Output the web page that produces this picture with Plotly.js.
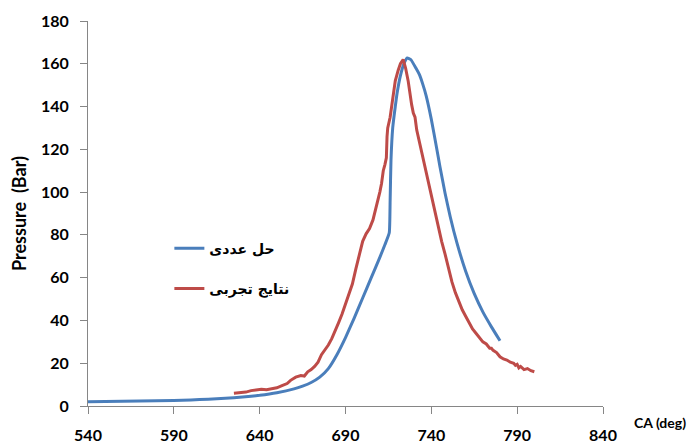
<!DOCTYPE html>
<html>
<head>
<meta charset="utf-8">
<script src="https://cdn.plot.ly/plotly-3.0.1.min.js"></script>
<style>html,body{margin:0;padding:0;background:#fff;}#chart{width:691px;height:443px;}</style>
</head>
<body>
<div id="chart"></div>
<script>
// Numerical solution (حل عددی)
const numCA = [540, 560, 580, 600, 610, 620, 630, 640, 650, 660, 665, 670, 675, 680, 685, 690, 695, 700, 705, 710, 713, 715.5, 716, 716.5, 717.5, 719, 720, 722, 724, 726, 728, 731, 733, 735, 737, 740, 743, 745, 748, 751, 755, 760, 765, 770, 775, 780];
const numP  = [2.0, 2.2, 2.4, 2.8, 3.2, 3.6, 4.2, 5.0, 6.2, 8.0, 9.3, 11, 13.5, 17.5, 24, 32, 41, 50.5, 60, 69.5, 75.5, 81, 96, 115, 130, 140, 146, 154.5, 160, 162.7, 162, 158, 155, 150.5, 145, 134, 121, 112, 99.5, 88.5, 76, 63, 52.5, 44, 37, 30.5];

// Experimental results (نتایج تجربی)
const expCA = [625, 628, 632, 635, 638, 641, 644, 647, 650, 653, 656, 658, 661, 664, 666, 668, 670, 672, 674, 676, 678, 680, 682, 684, 686, 688, 690, 692, 694, 696, 698, 700, 702, 704, 706, 708, 710, 711, 712, 713, 713.8, 714.2, 714.6, 716, 717.8, 719, 720.7, 722, 723.6, 725, 726.5, 727.5, 728.5, 729.5, 730.5, 731.5, 733.4, 735.3, 738, 740, 742, 744, 746, 748, 750, 752, 754, 756, 758, 760, 762, 764, 766, 768, 770, 772, 774, 775, 776, 778, 780, 782, 784, 786, 788, 789, 790, 791, 792, 794, 796, 798, 800];
const expP  = [6, 6.2, 6.5, 7.2, 7.5, 7.8, 7.6, 8.2, 8.5, 9.5, 10.5, 12, 13.5, 14.2, 14, 16, 17, 18.5, 20.5, 24, 26, 28.5, 31.5, 35, 39, 43, 47.5, 52, 57, 64, 71, 77, 80.5, 83, 87, 93, 100, 104, 110, 113, 116, 126, 130, 135, 146, 152, 157, 160, 162, 158, 152, 146, 141, 137, 135, 129, 122, 115, 106, 98, 91, 84, 77, 71, 64, 58, 53, 49, 45, 42, 39, 36, 34, 32, 30, 29, 27, 27, 26, 25, 23, 22, 21.5, 20.5, 20, 19, 19.5, 17.8, 18.5, 17, 17.5, 16.5, 16];

const seriesNames = ['حل عددی', 'نتایج تجربی'];
const xTicks = [540, 590, 640, 690, 740, 790, 840];
const yTicks = [0, 20, 40, 60, 80, 100, 120, 140, 160, 180];

const traces = [
  {x: numCA, y: numP, name: seriesNames[0], mode: 'lines', legendgroup: 'a',
   line: {color: '#4a7ebb', width: 3, shape: 'spline', smoothing: 0.4}},
  {x: expCA, y: expP, name: seriesNames[1], mode: 'lines', legendgroup: 'b',
   line: {color: '#be4b48', width: 3}}
];

const tickFont = {family: 'Lato, "DejaVu Sans", sans-serif', size: 16, color: '#000', weight: 'bold'};
const layout = {
  width: 691, height: 443,
  margin: {l: 88, r: 88, t: 21, b: 37},
  paper_bgcolor: '#fff', plot_bgcolor: '#fff',
  showlegend: true,
  legend: {x: 0.158, y: 0.45, xanchor: 'left', yanchor: 'top', bgcolor: 'rgba(0,0,0,0)',
           font: {family: '"DejaVu Sans", sans-serif', size: 14, color: '#000', weight: 'bold'},
           tracegroupgap: 19, itemwidth: 30},
  xaxis: {range: [540, 840], tickvals: xTicks, ticktext: xTicks.map(String), showgrid: false, zeroline: false,
          showline: true, linecolor: '#868686', linewidth: 1, ticks: 'outside', ticklen: 7, tickcolor: '#868686',
          tickfont: tickFont, ticklabelstandoff: 8},
  yaxis: {range: [0, 180], tickvals: yTicks, ticktext: yTicks.map(String), showgrid: false, zeroline: false,
          showline: true, linecolor: '#868686', linewidth: 1, ticks: 'outside', ticklen: 7, tickcolor: '#868686',
          tickfont: tickFont, ticklabelstandoff: 8,
          title: {text: 'Pressure  (Bar)', font: {family: 'Lato, sans-serif', size: 18, color: '#000', weight: 'bold'}, standoff: 9}},
  annotations: [
    {text: 'CA (deg)', xref: 'paper', yref: 'paper', x: 1.111, y: -0.042, xanchor: 'center', yanchor: 'middle',
     showarrow: false, font: {family: 'Lato, sans-serif', size: 14, color: '#000', weight: 'bold'}}
  ]
};

Plotly.newPlot('chart', traces, layout, {displayModeBar: false, staticPlot: true});
</script>
</body>
</html>
